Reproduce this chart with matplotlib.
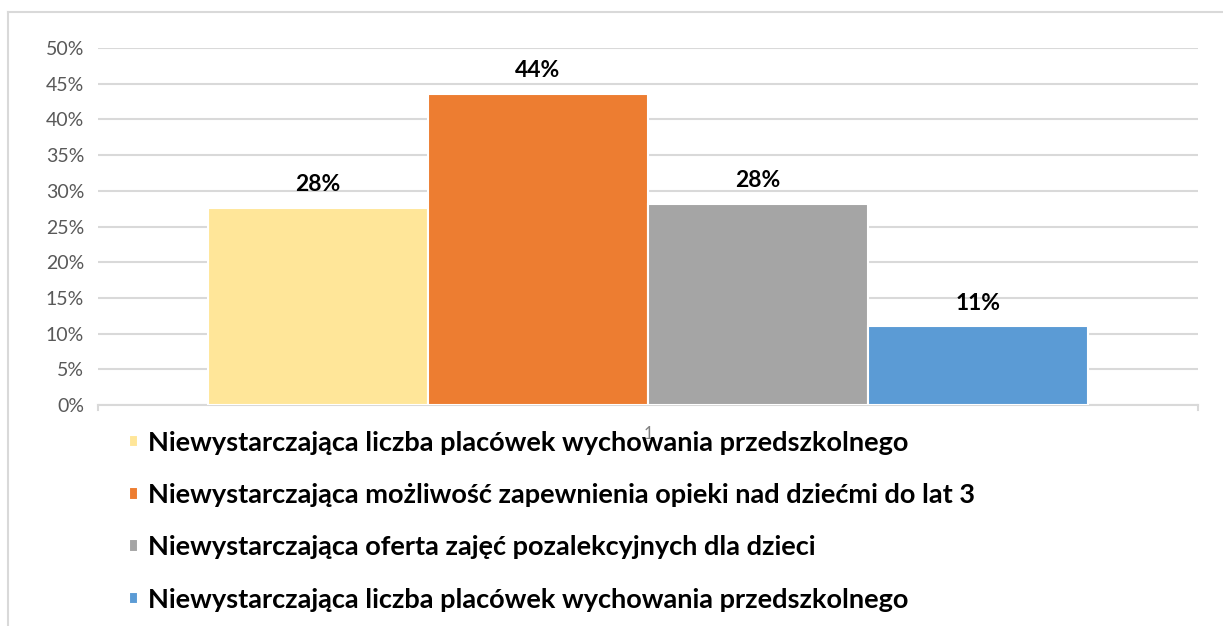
import matplotlib.pyplot as plt
from matplotlib.lines import Line2D
from matplotlib.ticker import PercentFormatter, FixedLocator

# dane
labels = [
    "Niewystarczająca liczba placówek wychowania przedszkolnego",
    "Niewystarczająca możliwość zapewnienia opieki nad dziećmi do lat 3",
    "Niewystarczająca oferta zajęć pozalekcyjnych dla dzieci",
    "Niewystarczająca liczba placówek wychowania przedszkolnego",
]
values = [0.276, 0.436, 0.282, 0.110]
colors = ["#FFE699", "#ED7D31", "#A5A5A5", "#5B9BD5"]
category = [1]

plt.rcParams['font.family'] = ['Lato', 'DejaVu Sans']

W, H = 1223, 626
fig = plt.figure(figsize=(W / 100, H / 100), dpi=100)
ax = fig.add_axes([98 / W, (H - 405) / H, 1100 / W, 357 / H])

n = len(values)
width = 0.2
bars = []
for i, (v, c, lab) in enumerate(zip(values, colors, labels)):
    x = (i - (n - 1) / 2) * width
    b = ax.bar(x, v, width=width, color=c, edgecolor='white', linewidth=1.5,
               label=lab, zorder=3)
    ax.bar_label(b, labels=[f"{v:.0%}"], padding=9, fontsize=16.5,
                 fontweight='bold', color='black')
    bars.append(b)

ax.set_xlim(-0.5, 0.5)
ax.set_ylim(0, 0.5)
ax.yaxis.set_major_locator(FixedLocator([i * 0.05 for i in range(11)]))
ax.yaxis.set_major_formatter(PercentFormatter(1.0, decimals=0))
ax.set_xticks([0])
ax.set_xticklabels([str(c) for c in category])
ax.tick_params(axis='x', length=0, pad=15, labelsize=12, colors='#7F7F7F')
ax.tick_params(axis='y', length=0, pad=10, labelsize=14, labelcolor='#595959')

ax.grid(axis='y', color='#D9D9D9', linewidth=1.5, zorder=0)
for s in ['top', 'right', 'left']:
    ax.spines[s].set_visible(False)
ax.spines['bottom'].set_color('#D9D9D9')
ax.spines['bottom'].set_linewidth(1.5)
# małe znaczniki na końcach osi x
for xe in (-0.5, 0.5):
    ax.plot([xe, xe], [0, -0.007], color='#D9D9D9', lw=1.5, clip_on=False)

handles = [b[0] for b in bars]
fig.legend(handles, labels, loc='upper left', bbox_to_anchor=(129 / W, 1 - 431 / H),
           frameon=False, borderpad=0, borderaxespad=0,
           handlelength=0.32, handleheight=0.32, handletextpad=0.4,
           labelspacing=1.04, prop={'size': 19.5, 'weight': 'bold'})

# ramka obrazka (lewa i górna krawędź)
fig.add_artist(Line2D([8 / W, 8 / W], [0, 1 - 12 / H], color='#D9D9D9', lw=1.5))
fig.add_artist(Line2D([8 / W, 1], [1 - 12 / H, 1 - 12 / H], color='#D9D9D9', lw=1.5))

fig.savefig('out.png', dpi=100)
